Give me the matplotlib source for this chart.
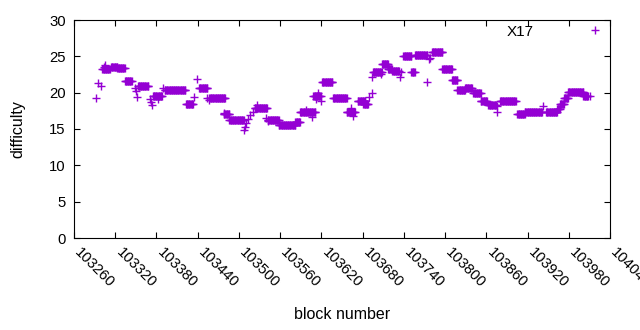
import numpy as np
import matplotlib
matplotlib.use("Agg")
import matplotlib.pyplot as plt
import matplotlib.transforms as mtransforms

plt.rcParams['font.family'] = ['Liberation Sans', 'DejaVu Sans']

# Plateaus: start block, end block, difficulty
seg_start = [103301, 103314, 103323, 103334, 103353, 103375, 103392, 103423, 103442, 103457,
             103478, 103486, 103523, 103542, 103558, 103582, 103589, 103608, 103621, 103637,
             103657, 103673, 103681, 103695, 103708, 103717, 103723, 103739, 103751, 103756,
             103781, 103796, 103810, 103818, 103829, 103841, 103852, 103863, 103880, 103905,
             103916, 103947, 103963, 103967, 103973, 103979, 104001]
seg_end = [103312, 103323, 103334, 103344, 103368, 103388, 103422, 103433, 103454, 103480,
           103486, 103507, 103541, 103558, 103582, 103589, 103611, 103619, 103636, 103657,
           103669, 103684, 103688, 103708, 103717, 103723, 103733, 103751, 103756, 103774,
           103796, 103810, 103818, 103829, 103839, 103852, 103861, 103874, 103903, 103916,
           103941, 103963, 103967, 103973, 103979, 104001, 104008]
seg_value = [23.3, 23.5, 23.4, 21.6, 20.9, 19.6, 20.4, 18.4, 20.6, 19.3,
             17.0, 16.2, 17.95, 16.2, 15.5, 16.0, 17.3, 19.6, 21.4, 19.3,
             17.4, 18.8, 18.4, 22.9, 24.0, 23.3, 23.0, 25.0, 22.9, 25.2,
             25.65, 23.3, 21.8, 20.4, 20.6, 19.9, 18.8, 18.3, 18.8, 17.1,
             17.3, 17.4, 17.7, 18.5, 19.2, 20.15, 19.6]

# Isolated blocks
iso_block = [103292, 103295, 103299, 103303, 103305, 103349, 103350, 103351, 103371, 103372,
             103374, 103382, 103390, 103435, 103439, 103454, 103456, 103479, 103507, 103509,
             103510, 103513, 103516, 103520, 103527, 103540, 103543, 103598, 103606, 103612,
             103615, 103619, 103663, 103666, 103690, 103693, 103694, 103707, 103734, 103736,
             103774, 103776, 103778, 103875, 103876, 103943, 104011]
iso_value = [19.2, 21.3, 20.9, 23.6, 23.8, 20.6, 20.2, 19.4, 19.1, 18.7,
             18.3, 19.1, 20.6, 19.4, 21.9, 19.2, 19.0, 17.2, 14.9, 15.3,
             15.8, 16.4, 16.9, 17.4, 18.3, 16.5, 16.1, 17.6, 16.7, 19.1,
             20.0, 18.9, 17.9, 16.8, 19.4, 20.0, 22.1, 22.6, 22.2, 22.9,
             21.5, 24.6, 24.8, 17.4, 18.1, 18.2, 19.5]

blocks = []
diffs = []
for s, e, v in zip(seg_start, seg_end, seg_value):
    b = np.arange(s, e + 1)
    blocks.extend(b.tolist())
    diffs.extend([v] * len(b))
blocks.extend(iso_block)
diffs.extend(iso_value)
order = np.argsort(blocks, kind="stable")
blocks = np.array(blocks)[order]
diffs = np.array(diffs)[order]

x_ticks = list(range(103260, 104041, 60))
y_ticks = [0, 5, 10, 15, 20, 25, 30]

fig = plt.figure(figsize=(6.4, 3.3), dpi=100)
ax = fig.add_axes([74 / 640, (330 - 238) / 330, (610 - 74) / 640, (238 - 20) / 330])

ax.plot(blocks, diffs, linestyle='none', marker='+', markersize=5.5, markeredgewidth=1.0,
        color='#9400D3', label='X17')

ax.set_xlim(103260, 104040)
ax.set_ylim(0, 30)
ax.set_xticks(x_ticks)
ax.set_yticks(y_ticks)
ax.set_xticklabels([str(t) for t in x_ticks], rotation=-45, ha='left', va='center',
                   rotation_mode='anchor', fontsize=10.7)
ax.set_yticklabels([str(t) for t in y_ticks], fontsize=10.7)
ax.tick_params(direction='in', length=4, width=0.8, top=True, right=True, pad=6)
ax.tick_params(axis='x', pad=9)
offset = mtransforms.ScaledTranslation(3 / 100, 0, fig.dpi_scale_trans)
for lab in ax.get_xticklabels():
    lab.set_transform(lab.get_transform() + offset)
for sp in ax.spines.values():
    sp.set_linewidth(0.8)

ax.set_xlabel('block number', fontsize=11.5, labelpad=12)
ax.set_ylabel('difficulty', fontsize=11.5, labelpad=17)

leg = ax.legend(loc='upper right', bbox_to_anchor=(1.0, 0.978), frameon=False,
                markerfirst=False, handlelength=2.0, handletextpad=3.0, borderpad=0,
                borderaxespad=0, fontsize=11)

fig.savefig('out.png', dpi=100)
